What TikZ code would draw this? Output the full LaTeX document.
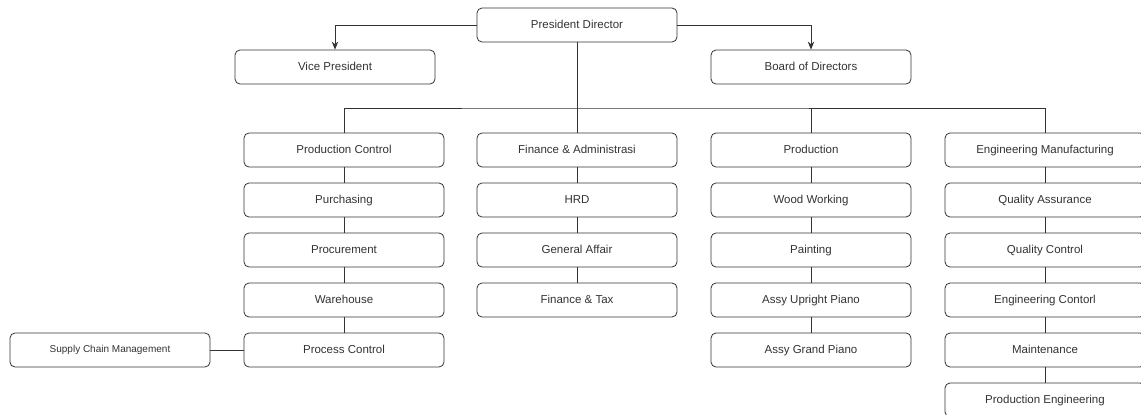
\documentclass[tikz,border=0pt]{standalone}
\usepackage{fontspec}
\setmainfont{Liberation Sans}
\usetikzlibrary{arrows.meta}
\definecolor{ink}{HTML}{333333}
\tikzset{
  unit/.style={draw=ink, line width=0.8pt, rounded corners=5pt, minimum width=200pt,
    minimum height=34pt, inner sep=0pt, text=ink, text height=8.3pt, text depth=2.3pt,
    font=\fontsize{11.5}{12}\selectfont, fill=white},
  small/.style={font=\fontsize{10}{11}\selectfont, text height=7.2pt, text depth=2pt},
  link/.style={draw=ink, line width=0.8pt},
  arr/.style={link, -{Stealth[length=8pt,width=6.5pt]}}
}
\begin{document}
\begin{tikzpicture}[x=1pt,y=-1pt]
\clip (0,0) rectangle (1141,415);
\fill[white] (0,0) rectangle (1141,415);

% top management
\node[unit] (pd) at (577,25) {President Director};
\node[unit] (vp) at (335,67) {Vice President};
\node[unit] (bod) at (811,67) {Board of Directors};

% column 1
\node[unit] (pc) at (344,150) {Production Control};
\node[unit] (pur) at (344,200) {Purchasing};
\node[unit] (proc) at (344,250) {Procurement};
\node[unit] (wh) at (344,300) {Warehouse};
\node[unit] (prc) at (344,350) {Process Control};
\node[unit, small] (scm) at (110,350) {Supply Chain Management};

% column 2
\node[unit] (fa) at (577,150) {Finance \& Administrasi};
\node[unit] (hrd) at (577,200) {HRD};
\node[unit] (ga) at (577,250) {General Affair};
\node[unit] (ft) at (577,300) {Finance \& Tax};

% column 3
\node[unit] (prod) at (811,150) {Production};
\node[unit] (ww) at (811,200) {Wood Working};
\node[unit] (pt) at (811,250) {Painting};
\node[unit] (aup) at (811,300) {Assy Upright Piano};
\node[unit] (agp) at (811,350) {Assy Grand Piano};

% column 4
\node[unit] (em) at (1045,150) {Engineering Manufacturing};
\node[unit] (qa) at (1045,200) {Quality Assurance};
\node[unit] (qc) at (1045,250) {Quality Control};
\node[unit] (ec) at (1045,300) {Engineering Contorl};
\node[unit] (mt) at (1045,350) {Maintenance};
\node[unit] (pe) at (1045,400) {Production Engineering};

% arrows from the president
\draw[arr] (pd.west) -| (vp.north);
\draw[arr] (pd.east) -| (bod.north);

% distribution bar
\coordinate (bus) at (577,108);
\draw[link] (pd.south) -- (bus);
\draw[link] (pc.north) |- (bus) -| (em.north);
\draw[link] (bus) -- (fa.north);
\draw[link] (prod.north) -- (prod.north |- bus);

% chains
\draw[link] (pc) -- (pur) (pur) -- (proc) (proc) -- (wh) (wh) -- (prc);
\draw[link] (scm) -- (prc);
\draw[link] (fa) -- (hrd) (hrd) -- (ga) (ga) -- (ft);
\draw[link] (prod) -- (ww) (ww) -- (pt) (pt) -- (aup) (aup) -- (agp);
\draw[link] (em) -- (qa) (qa) -- (qc) (qc) -- (ec) (ec) -- (mt) (mt) -- (pe);
\end{tikzpicture}
\end{document}
